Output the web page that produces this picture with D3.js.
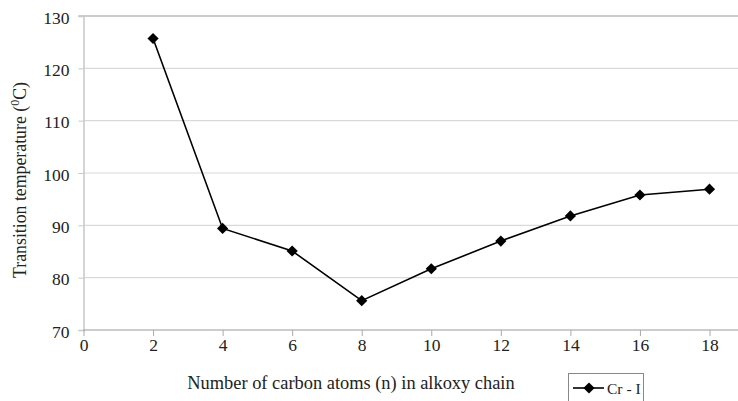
<!DOCTYPE html>
<html><head><meta charset="utf-8">
<script src="https://cdn.jsdelivr.net/npm/d3@7"></script>
<style>body{margin:0;background:#fff}svg{display:block}</style>
</head><body>
<script>
const carbonAtoms = [2, 4, 6, 8, 10, 12, 14, 16, 18];
const crI = [125.7, 89.4, 85.1, 75.6, 81.7, 87.0, 91.8, 95.8, 96.9];
const xTicks = [0, 2, 4, 6, 8, 10, 12, 14, 16, 18];
const yTicks = [70, 80, 90, 100, 110, 120, 130];
const seriesName = "Cr - I";

const W = 738, H = 401;
const svg = d3.select("body").append("svg").attr("width", W).attr("height", H);
const font = "Liberation Serif, Times New Roman, serif";

const x = d3.scaleLinear().domain([0, 18]).range([83.5, 709.5]);
const y = d3.scaleLinear().domain([70, 130]).range([330, 16]);
const right = 738;

// gridlines
svg.append("g").selectAll("line").data(yTicks.filter(d => d > 70 && d < 130)).join("line")
  .attr("x1", x(0)).attr("x2", right).attr("y1", d => y(d)).attr("y2", d => y(d))
  .attr("stroke", "#d9d9d9").attr("stroke-width", 1.2);
// top line
svg.append("line").attr("x1", x(0) - 5).attr("x2", right).attr("y1", y(130)).attr("y2", y(130))
  .attr("stroke", "#999").attr("stroke-width", 1.2);

// y axis
const yAxis = svg.append("g").attr("transform", `translate(${x(0)},0)`)
  .call(d3.axisLeft(y).tickValues(yTicks).tickSize(5).tickFormat(d3.format("d")));
yAxis.attr("font-family", font).attr("font-size", 17.5);
yAxis.select(".domain").attr("stroke", "#c8c8c8").attr("stroke-width", 1.5);
yAxis.selectAll(".tick line").attr("stroke", "#c8c8c8");
yAxis.selectAll("text").attr("fill", "#222").attr("x", -14).attr("dy", "0.4em");

// x axis
const xAxis = svg.append("g").attr("transform", `translate(0,${y(70)})`)
  .call(d3.axisBottom(x).tickValues(xTicks).tickSize(6).tickSizeOuter(0).tickFormat(d3.format("d")));
xAxis.attr("font-family", font).attr("font-size", 17.5);
xAxis.select(".domain").attr("stroke", "#999").attr("stroke-width", 1.2).attr("d", `M${x(0)},0H${right}`);
xAxis.selectAll(".tick line").attr("stroke", "#aaa");
xAxis.selectAll("text").attr("fill", "#222").attr("y", 9).attr("dy", "0.71em");

// line
const pts = carbonAtoms.map((c, i) => [c, crI[i]]);
svg.append("path").datum(pts)
  .attr("d", d3.line().x(d => x(d[0])).y(d => y(d[1])))
  .attr("fill", "none").attr("stroke", "#000").attr("stroke-width", 1.6);
const diamond = d3.symbol().type(d3.symbolDiamond2).size(80);
svg.append("g").selectAll("path").data(pts).join("path")
  .attr("d", diamond).attr("transform", d => `translate(${x(d[0])},${y(d[1])})`).attr("fill", "#000");

// axis titles
svg.append("text").attr("x", 351).attr("y", 389).attr("text-anchor", "middle")
  .attr("font-family", font).attr("font-size", 18.4).attr("fill", "#222")
  .text("Number of carbon atoms (n) in alkoxy chain");
const yt = svg.append("text").attr("transform", "translate(26,180) rotate(-90)").attr("text-anchor", "middle")
  .attr("font-family", font).attr("font-size", 17.8).attr("fill", "#222");
yt.append("tspan").text("Transition temperature (");
yt.append("tspan").attr("font-size", 12).attr("dy", -7).text("0");
yt.append("tspan").attr("dy", 7).text("C)");

// legend
const lg = svg.append("g");
lg.append("rect").attr("x", 568.5).attr("y", 373.5).attr("width", 75).attr("height", 40)
  .attr("fill", "#fff").attr("stroke", "#888");
lg.append("line").attr("x1", 573).attr("x2", 604).attr("y1", 388).attr("y2", 388).attr("stroke", "#000").attr("stroke-width", 1.6);
lg.append("path").attr("d", diamond).attr("transform", "translate(589,388)").attr("fill", "#000");
lg.append("text").attr("x", 607).attr("y", 394).attr("font-family", font).attr("font-size", 15.5).attr("fill", "#222").text(seriesName);
</script>
</body></html>
